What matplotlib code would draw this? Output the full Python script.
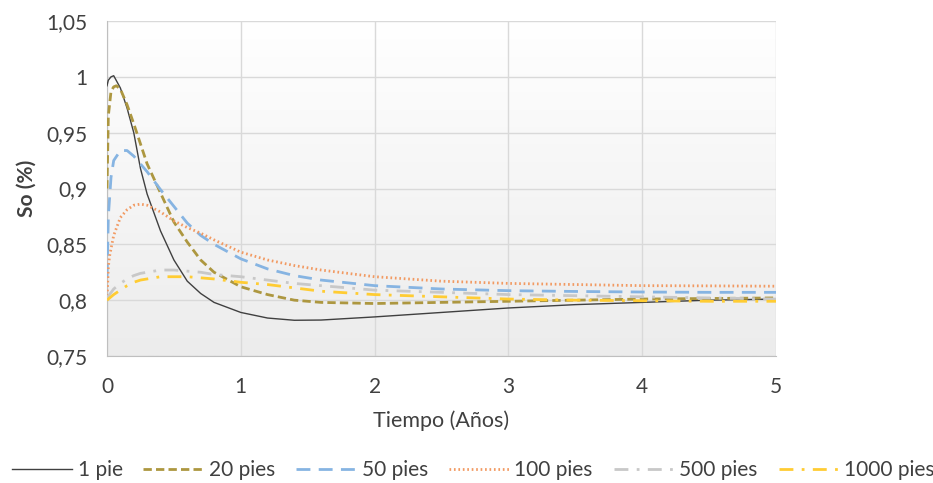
import numpy as np
import matplotlib
matplotlib.use("Agg")
import matplotlib.pyplot as plt
from matplotlib.ticker import FuncFormatter, MultipleLocator
from matplotlib.colors import LinearSegmentedColormap

plt.rcParams['font.family'] = ['Lato', 'DejaVu Sans']

# Oil saturation vs time for several distances from the well
t_1 = [0, 0.01, 0.03, 0.05, 0.1, 0.15, 0.2, 0.25, 0.3, 0.4, 0.5, 0.6, 0.7, 0.8,
       1.0, 1.2, 1.4, 1.6, 2.0, 2.5, 3.0, 3.5, 4.0, 4.5, 5.0]
so_1 = [0.992, 0.997, 1.000, 1.001, 0.990, 0.972, 0.950, 0.918, 0.895, 0.862, 0.836,
        0.817, 0.806, 0.798, 0.789, 0.784, 0.782, 0.7822, 0.785, 0.789, 0.793, 0.796,
        0.798, 0.800, 0.801]

t_20 = [0, 0.01, 0.03, 0.05, 0.07, 0.1, 0.15, 0.2, 0.25, 0.3, 0.4, 0.5, 0.6, 0.7, 0.8,
        1.0, 1.2, 1.4, 1.6, 2.0, 2.5, 3.0, 3.5, 4.0, 4.5, 5.0]
so_20 = [0.90, 0.965, 0.987, 0.991, 0.992, 0.989, 0.975, 0.958, 0.940, 0.922, 0.896,
         0.870, 0.852, 0.836, 0.825, 0.812, 0.805, 0.800, 0.798, 0.797, 0.798, 0.799,
         0.800, 0.801, 0.8015, 0.802]

t_50 = [0, 0.01, 0.03, 0.05, 0.1, 0.15, 0.2, 0.25, 0.3, 0.4, 0.5, 0.6, 0.7, 0.8,
        1.0, 1.2, 1.4, 1.6, 2.0, 2.5, 3.0, 3.5, 4.0, 4.5, 5.0]
so_50 = [0.82, 0.875, 0.910, 0.925, 0.934, 0.934, 0.929, 0.922, 0.915, 0.899, 0.884,
         0.869, 0.858, 0.850, 0.837, 0.828, 0.822, 0.818, 0.813, 0.810, 0.8085, 0.8078,
         0.8073, 0.807, 0.807]

t_100 = [0, 0.01, 0.02, 0.05, 0.1, 0.15, 0.2, 0.25, 0.3, 0.4, 0.5, 0.6, 0.7, 0.8,
         1.0, 1.2, 1.4, 1.6, 2.0, 2.5, 3.0, 3.5, 4.0, 4.5, 5.0]
so_100 = [0.800, 0.830, 0.840, 0.858, 0.874, 0.881, 0.885, 0.886, 0.885, 0.879, 0.871,
          0.865, 0.860, 0.854, 0.843, 0.836, 0.831, 0.827, 0.821, 0.817, 0.815, 0.814,
          0.813, 0.8128, 0.8125]

t_500 = [0, 0.05, 0.1, 0.15, 0.2, 0.25, 0.3, 0.4, 0.5, 0.6, 0.7, 0.8,
         1.0, 1.2, 1.4, 1.6, 2.0, 2.5, 3.0, 3.5, 4.0, 4.5, 5.0]
so_500 = [0.802, 0.810, 0.815, 0.819, 0.822, 0.824, 0.825, 0.827, 0.827, 0.826, 0.825,
          0.823, 0.821, 0.818, 0.815, 0.813, 0.809, 0.807, 0.805, 0.804, 0.803, 0.802,
          0.801]

t_1000 = [0, 0.05, 0.1, 0.15, 0.2, 0.25, 0.3, 0.4, 0.5, 0.6, 0.7, 0.8,
          1.0, 1.2, 1.4, 1.6, 2.0, 2.5, 3.0, 3.5, 4.0, 4.5, 5.0]
so_1000 = [0.800, 0.805, 0.809, 0.813, 0.816, 0.818, 0.819, 0.821, 0.821, 0.821, 0.820,
           0.819, 0.816, 0.814, 0.811, 0.808, 0.805, 0.803, 0.801, 0.800, 0.7995, 0.799,
           0.799]

labels = ["1 pie", "20 pies", "50 pies", "100 pies", "500 pies", "1000 pies"]
x_ticks = [0, 1, 2, 3, 4, 5]

W, H = 933, 483
fig = plt.figure(figsize=(W / 100, H / 100), dpi=100)
left, right, top, bottom = 107, 776, 21, 356
ax = fig.add_axes([left / W, 1 - bottom / H, (right - left) / W, (bottom - top) / H])

# plot-area gradient fill
grad = np.linspace(1, 0, 256).reshape(-1, 1)
cmap = LinearSegmentedColormap.from_list("bg", ["#ececec", "#ffffff"])
ax.imshow(grad, cmap=cmap, aspect="auto", extent=[0, 1, 0, 1],
          transform=ax.transAxes, zorder=0, origin="upper")

ax.plot(t_1, so_1, color="#404040", lw=1.0, ls="-", label=labels[0], zorder=3)
ax.plot(t_20, so_20, color="#AD9740", lw=2.0, ls=(0, (3, 1.5)), label=labels[1], zorder=3)
ax.plot(t_50, so_50, color="#86B4E2", lw=2.0, ls=(0, (5, 3)), label=labels[2], zorder=3)
ax.plot(t_100, so_100, color="#F29A62", lw=2.0, ls=(0, (0.6, 1.0)), label=labels[3], zorder=3)
ax.plot(t_500, so_500, color="#C8C8C8", lw=2.0, ls=(0, (5, 3, 1, 3)), label=labels[4], zorder=3)
ax.plot(t_1000, so_1000, color="#FFCC33", lw=2.0, ls=(0, (5, 3, 1, 3)), label=labels[5], zorder=3)

ax.set_xlim(0, 5)
ax.set_ylim(0.75, 1.05)
ax.set_xticks(x_ticks)
ax.yaxis.set_major_locator(MultipleLocator(0.05))

def comma(v, pos):
    s = f"{v:.2f}".rstrip("0").rstrip(".")
    return s.replace(".", ",")

ax.yaxis.set_major_formatter(FuncFormatter(comma))
ax.xaxis.set_major_formatter(FuncFormatter(lambda v, p: f"{int(round(v))}"))

ax.grid(True, color="#d9d9d9", lw=1.0, zorder=1)
ax.set_axisbelow(True)
for side in ["top", "right"]:
    ax.spines[side].set_visible(False)
for side in ["left", "bottom"]:
    ax.spines[side].set_color("#bfbfbf")
ax.tick_params(axis="y", length=0, labelsize=15, colors="#404040", pad=14)
ax.tick_params(axis="x", length=0, labelsize=15, colors="#404040", pad=15)

ax.set_xlabel("Tiempo (Años)", fontsize=15.5, color="#404040", labelpad=10)
ax.set_ylabel("So (%)", fontsize=15, color="#404040", fontweight="bold", labelpad=7)

fig.legend(loc="center left", bbox_to_anchor=(12 / W, 13 / H), ncol=6, frameon=False,
           fontsize=15, handlelength=2.9, columnspacing=1.0, handletextpad=0.25,
           borderaxespad=0, borderpad=0, labelcolor="#404040")

fig.savefig("out.png", dpi=100)
